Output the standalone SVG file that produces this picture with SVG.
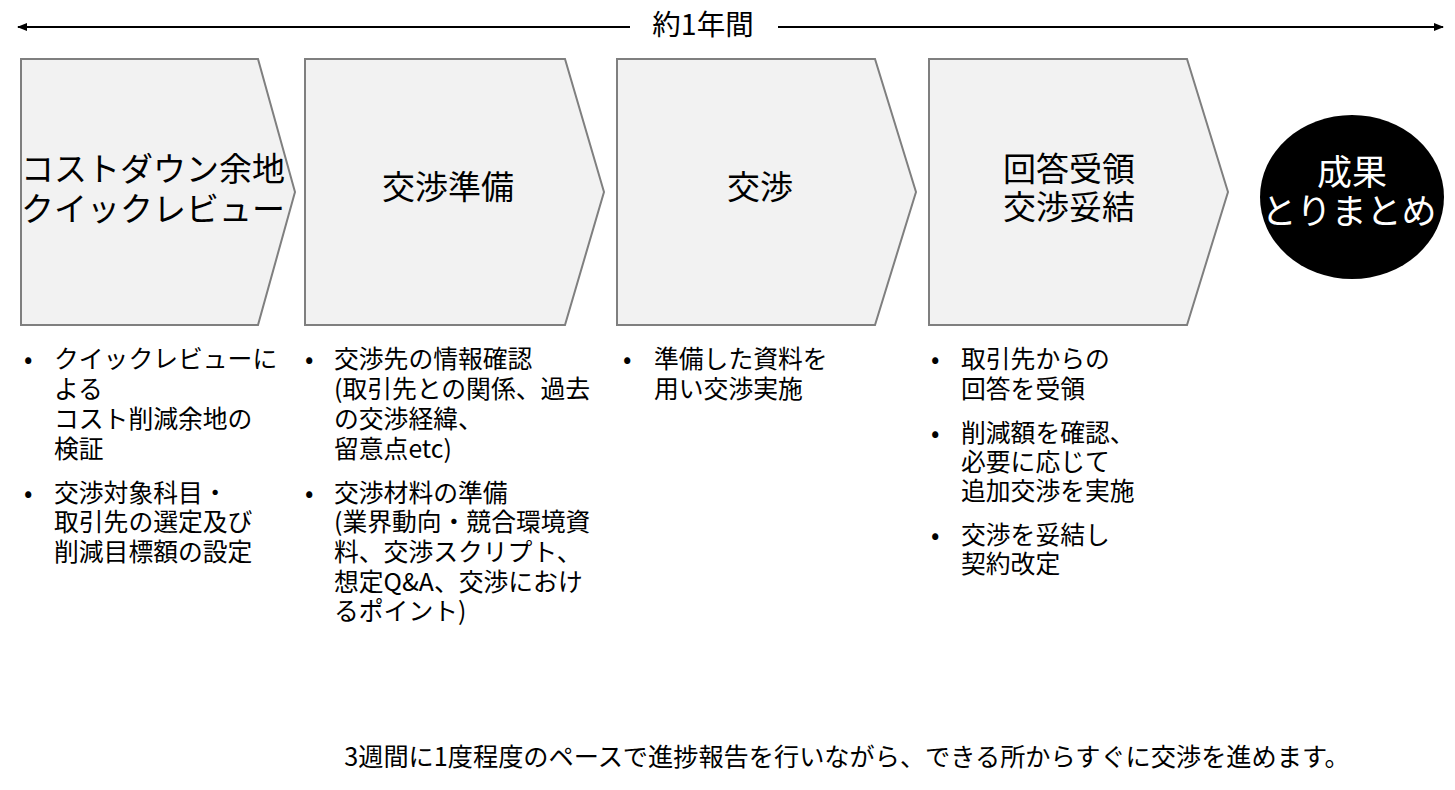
<svg xmlns="http://www.w3.org/2000/svg" width="1455" height="790" viewBox="0 0 1455 790">
<style>
text{font-family:"Noto Sans CJK JP","Noto Sans",sans-serif;fill:#000}
.step{fill:#f2f2f2;stroke:#7f7f7f;stroke-width:2}
.title{font-size:33px;text-anchor:middle}
.body{font-size:24.8px}
.line{stroke:#000;stroke-width:2;fill:none}
</style>
<defs>
<marker id="ah" viewBox="0 0 10 10" refX="9" refY="5" markerWidth="10" markerHeight="10" markerUnits="userSpaceOnUse" orient="auto-start-reverse">
<path d="M0,1 L10,5 L0,9 Z" fill="#000"/>
</marker>
</defs>
<rect width="1455" height="790" fill="#fff"/>
<g id="connectors">
<line class="line" x1="18" y1="27" x2="630" y2="27" marker-start="url(#ah)"/>
<line class="line" x1="778" y1="27" x2="1443" y2="27" marker-end="url(#ah)"/>
</g>
<g id="timeline-label">
<text x="703" y="35" style="font-size:28.5px;text-anchor:middle">約1年間</text>
</g>
<g id="step1">
<polygon class="step" points="21,59 258,59 295,192 258,325 21,325"/>
<text class="title"><tspan x="153" y="181">コストダウン余地</tspan><tspan x="153" y="221">クイックレビュー</tspan></text>
</g>
<g id="step2">
<polygon class="step" points="305,59 565,59 604,192 565,325 305,325"/>
<text class="title" x="448" y="199">交渉準備</text>
</g>
<g id="step3">
<polygon class="step" points="617,59 875,59 916,192 875,325 617,325"/>
<text class="title" x="760" y="199">交渉</text>
</g>
<g id="step4">
<polygon class="step" points="929,59 1187,59 1228,192 1187,325 929,325"/>
<text class="title"><tspan x="1069" y="181">回答受領</tspan><tspan x="1069" y="219">交渉妥結</tspan></text>
</g>
<g id="result">
<ellipse cx="1352" cy="197" rx="92" ry="82" fill="#000"/>
<text class="title" style="fill:#fff;font-size:35px"><tspan x="1352" y="185">成果</tspan><tspan x="1349" y="224">とりまとめ</tspan></text>
</g>
<g id="notes1" class="body">
<text x="24" y="368">•</text>
<text><tspan x="54" y="368">クイックレビューに</tspan><tspan x="54" y="398">よる</tspan><tspan x="54" y="428">コスト削減余地の</tspan><tspan x="54" y="458">検証</tspan></text>
<text x="24" y="502">•</text>
<text><tspan x="54" y="502">交渉対象科目・</tspan><tspan x="54" y="531">取引先の選定及び</tspan><tspan x="54" y="561">削減目標額の設定</tspan></text>
</g>
<g id="notes2" class="body">
<text x="305" y="368">•</text>
<text><tspan x="334" y="368">交渉先の情報確認</tspan><tspan x="334" y="398">(取引先との関係、過去</tspan><tspan x="334" y="428">の交渉経緯、</tspan><tspan x="334" y="458">留意点etc)</tspan></text>
<text x="305" y="502">•</text>
<text><tspan x="334" y="502">交渉材料の準備</tspan><tspan x="334" y="531">(業界動向・競合環境資</tspan><tspan x="334" y="561">料、交渉スクリプト、</tspan><tspan x="334" y="591">想定Q&amp;A、交渉におけ</tspan><tspan x="334" y="620">るポイント)</tspan></text>
</g>
<g id="notes3" class="body">
<text x="623" y="368">•</text>
<text><tspan x="654" y="368">準備した資料を</tspan><tspan x="654" y="398">用い交渉実施</tspan></text>
</g>
<g id="notes4" class="body">
<text x="931" y="368">•</text>
<text><tspan x="961" y="368">取引先からの</tspan><tspan x="961" y="398">回答を受領</tspan></text>
<text x="931" y="442">•</text>
<text><tspan x="961" y="442">削減額を確認、</tspan><tspan x="961" y="471">必要に応じて</tspan><tspan x="961" y="500">追加交渉を実施</tspan></text>
<text x="931" y="544">•</text>
<text><tspan x="961" y="544">交渉を妥結し</tspan><tspan x="961" y="573">契約改定</tspan></text>
</g>
<g id="footer">
<text x="847" y="766" style="font-size:25.2px;text-anchor:middle">3週間に1度程度のペースで進捗報告を行いながら、できる所からすぐに交渉を進めます。</text>
</g>
</svg>
